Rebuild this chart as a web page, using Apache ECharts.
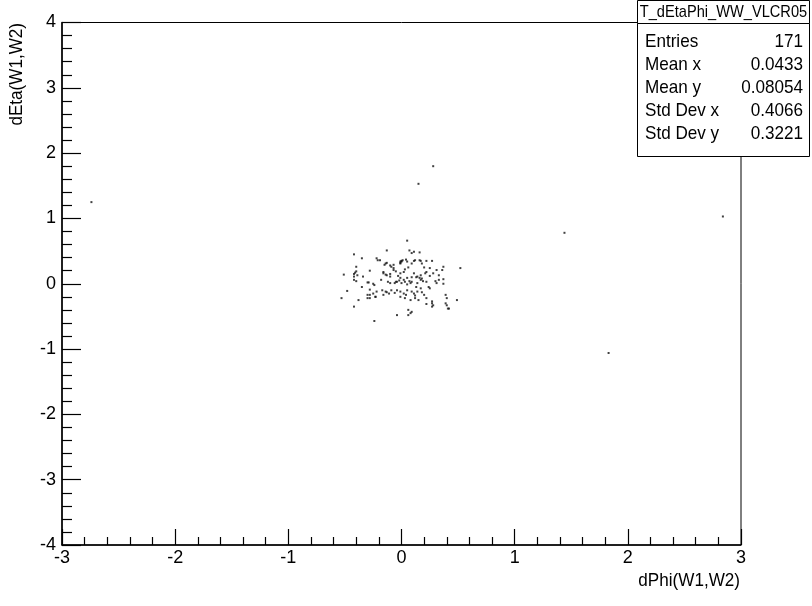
<!DOCTYPE html>
<html><head><meta charset="utf-8">
<script src="https://cdn.jsdelivr.net/npm/echarts@6/dist/echarts.min.js"></script>
<style>html,body{margin:0;padding:0;background:#fff}#c{width:812px;height:606px}</style>
</head><body><div id="c"></div>
<script>
// dPhi(W1,W2), dEta(W1,W2) pairs
const dPhi = [
 -2.74, 0.28, 0.15, 1.44, 2.84, 1.83,
 0.05,-0.42,-0.35,-0.13,0.07,0.11,0.09,0.16,-0.22,-0.19,
 -0.14,-0.15,-0.13,-0.07,-0.09,-0.01,0.00,-0.01,0.05,0.09,
 0.12,0.17,0.18,0.22,0.27,-0.40,-0.51,-0.41,-0.39,-0.42,
 -0.42,-0.34,-0.28,-0.16,-0.13,-0.10,-0.07,-0.01,0.02,0.03,
 0.11,0.14,0.17,0.21,0.22,0.25,0.28,0.31,0.33,0.37,
 0.36,0.52,-0.29,-0.25,-0.35,-0.12,-0.10,-0.06,-0.04,0.00,
 0.03,0.05,0.08,0.09,0.14,0.17,0.18,0.22,0.24,0.25,
 0.31,0.33,0.37,0.37,-0.48,-0.53,-0.38,-0.42,-0.30,-0.28,
 -0.22,-0.17,-0.14,-0.16,-0.11,-0.09,-0.04,-0.01,0.02,0.05,
 0.09,0.11,0.14,0.17,-0.01,0.03,0.08,0.12,0.15,0.20,
 0.22,0.27,0.28,0.39,0.40,0.40,0.41,0.49,-0.25,-0.23,
 -0.04,0.06,0.08,0.09,0.06,-0.24,
 0.01,0.04,0.11,0.16,-0.10,-0.07,-0.01,0.00,-0.16,-0.14,
 -0.03,-0.01,-0.02,0.05,0.09,0.13,0.16,0.02,-0.10,
 -0.40,-0.30,-0.24,-0.28,-0.28,-0.23,-0.30,0.22,0.27,0.27,
 0.39,0.42,-0.05,0.07,0.19,-0.13,-0.06,0.04,0.12,0.18,
 -0.40,-0.42,-0.21,0.25,0.30,0.20,0.06,-0.05,-0.18,0.13
];
const dEta = [
 1.25, 1.80, 1.53, 0.78, 1.03, -1.06,
 0.66,0.45,0.39,0.51,0.51,0.49,0.47,0.48,0.39,0.36,
 0.31,0.29,0.32,0.29,0.26,0.34,0.35,0.32,0.34,0.31,
 0.36,0.35,0.31,0.35,0.35,0.26,0.14,0.17,0.13,0.11,
 0.06,0.11,0.20,0.16,0.13,0.15,0.21,0.16,0.18,0.22,
 0.16,0.11,0.13,0.16,0.18,0.24,0.16,0.21,0.13,0.26,
 0.21,0.24,0.02,0.00,-0.05,0.03,0.01,0.01,0.03,0.01,
 0.03,-0.01,0.01,0.03,0.01,0.06,0.08,0.03,-0.05,-0.07,
 0.01,0.06,0.07,0.00,-0.11,-0.22,-0.25,-0.35,-0.17,-0.22,
 -0.12,-0.10,-0.12,-0.17,-0.15,-0.10,-0.10,-0.12,-0.15,-0.10,
 -0.12,-0.15,-0.12,-0.07,-0.20,-0.22,-0.25,-0.22,-0.25,-0.17,
 -0.22,-0.27,-0.33,-0.17,-0.22,-0.33,-0.38,-0.25,-0.15,-0.20,
 -0.48,-0.40,-0.45,-0.43,-0.48,-0.57,
 0.36,0.37,0.35,0.36,0.28,0.24,0.31,0.34,0.18,0.14,
 0.12,0.09,0.05,0.09,0.10,0.10,0.09,0.06,0.11,
 0.04,0.02,-0.02,-0.09,-0.17,-0.20,-0.22,-0.31,-0.30,-0.35,
 -0.30,-0.38,0.03,0.04,0.04,-0.13,-0.14,-0.17,-0.18,-0.13,
 0.19,0.15,0.36,0.12,0.04,0.25,0.25,0.19,0.06,-0.05
];
const histName = 'T_dEtaPhi_WW_VLCR05';
const statLabels = ['Entries','Mean x','Mean y','Std Dev x','Std Dev y'];
const statValues = ['171','0.0433','0.08054','0.4066','0.3221'];
const xTitle = 'dPhi(W1,W2)';
const yTitle = 'dEta(W1,W2)';

const points = dPhi.map((x,i)=>[x,dEta[i]]);
const FONT = "'Liberation Sans', Arial, sans-serif";
const chart = echarts.init(document.getElementById('c'), null, {renderer:'canvas'});

const graphics = [];
// title box
graphics.push({type:'rect', shape:{x:637.5,y:0.5,width:172,height:23}, style:{fill:'#fff',stroke:'#000',lineWidth:1}, z:10});
graphics.push({type:'text', x:723.5, y:12, scaleX:0.86, style:{text:histName, font:'17px '+FONT, fill:'#000', textAlign:'center', textVerticalAlign:'middle'}, z:11});
// stats box
graphics.push({type:'rect', shape:{x:637.5,y:23.5,width:172,height:133}, style:{fill:'#fff',stroke:'#000',lineWidth:1}, z:10});
const rowY = [42,65,88,111,134];
statLabels.forEach((l,i)=>{
  graphics.push({type:'text', x:645, y:rowY[i], scaleX:0.9, style:{text:l, font:'19px '+FONT, fill:'#000', textAlign:'left', textVerticalAlign:'middle'}, z:11});
  graphics.push({type:'text', x:803, y:rowY[i], scaleX:0.9, style:{text:statValues[i], font:'19px '+FONT, fill:'#000', textAlign:'right', textVerticalAlign:'middle'}, z:11});
});
// axis titles
graphics.push({type:'text', x:740, y:581, scaleX:0.9, style:{text:xTitle, font:'19px '+FONT, fill:'#000', textAlign:'right', textVerticalAlign:'middle'}, z:11});
graphics.push({type:'text', x:17, y:23, rotation:Math.PI/2, scaleX:0.9, style:{text:yTitle, font:'19px '+FONT, fill:'#000', textAlign:'right', textVerticalAlign:'middle'}, z:11});

chart.setOption({
  animation:false,
  backgroundColor:'#fff',
  grid:{left:62, top:22.5, right:71, bottom:61, show:true, borderColor:'#000', borderWidth:1, backgroundColor:'transparent'},
  xAxis:{type:'value', min:-3, max:3, interval:1,
    axisLine:{show:true, onZero:false, lineStyle:{color:'#000',width:1.5}},
    axisTick:{show:true, inside:true, length:16, lineStyle:{color:'#000',width:1.2}},
    minorTick:{show:true, splitNumber:5, length:8, lineStyle:{color:'#000',width:1.2}},
    splitLine:{show:false},
    axisLabel:{color:'#000', fontSize:18, fontFamily:FONT, margin:4, showMinLabel:true, showMaxLabel:true}
  },
  yAxis:{type:'value', min:-4, max:4, interval:1,
    axisLine:{show:true, onZero:false, lineStyle:{color:'#000',width:1.5}},
    axisTick:{show:true, inside:true, length:19, lineStyle:{color:'#000',width:1.2}},
    minorTick:{show:true, splitNumber:5, length:10, lineStyle:{color:'#000',width:1.2}},
    splitLine:{show:false},
    axisLabel:{color:'#000', fontSize:18, fontFamily:FONT, margin:6, showMinLabel:true, showMaxLabel:true}
  },
  series:[{type:'scatter', data:points, symbol:'rect', symbolSize:2, itemStyle:{color:'#111'}, silent:true}],
  graphic:graphics
});
</script></body></html>
